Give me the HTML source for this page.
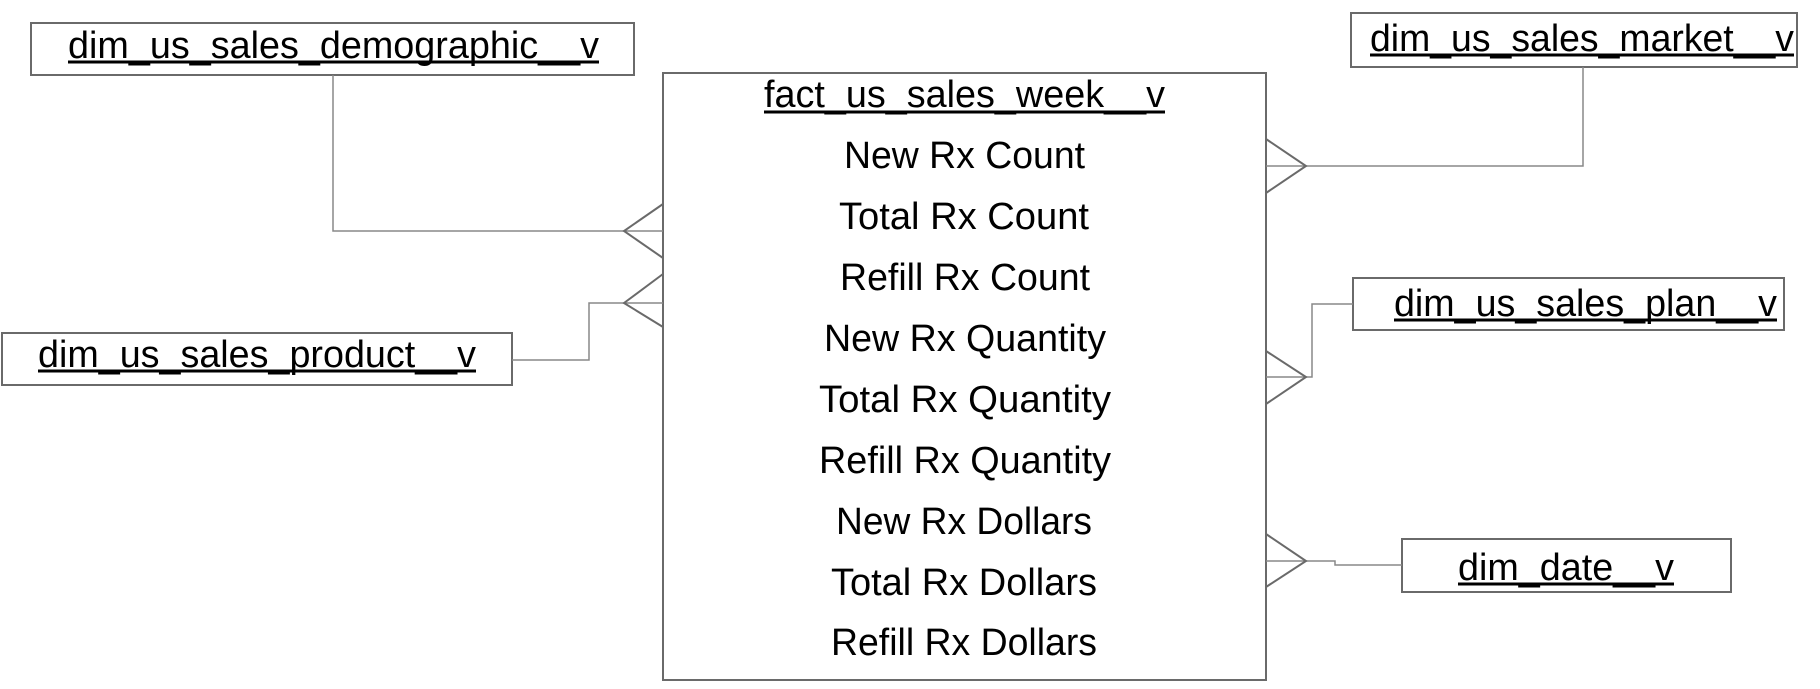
<!DOCTYPE html>
<html><head><meta charset="utf-8"><style>
html,body{margin:0;padding:0;background:#fff;}
svg{display:block;}
text{font-family:"Liberation Sans",Arial,sans-serif;fill:#000;}
</style></head><body>
<svg width="1820" height="689" viewBox="0 0 1820 689" xmlns="http://www.w3.org/2000/svg">
<g fill="#fff" stroke="#6a6a6a" stroke-width="2">
<rect x="31" y="23" width="603" height="52"/>
<rect x="663" y="73" width="603" height="607"/>
<rect x="2" y="333" width="510" height="52"/>
<rect x="1351" y="13" width="446" height="54"/>
<rect x="1353" y="278" width="431" height="52"/>
<rect x="1402" y="539" width="329" height="53"/>
</g>
<g fill="none" stroke="#888" stroke-width="1.5">
<polyline points="333,75 333,231 663,231"/>
<polyline points="512,360 589,360 589,303 663,303"/>
<polyline points="1266,166 1583,166 1583,67"/>
<polyline points="1266,377 1312,377 1312,304 1353,304"/>
<polyline points="1266,561 1335,561 1335,565 1402,565"/>
</g>
<g fill="none" stroke="#6a6a6a" stroke-width="2">
<polyline points="663,204 624,231 663,258"/>
<polyline points="663,274 624,303 663,327"/>
<polyline points="1266,139 1306,166 1266,193"/>
<polyline points="1266,351 1306,377 1266,404"/>
<polyline points="1266,534 1306,561 1266,587"/>
</g>
<g font-size="38">
<text x="68" y="58" textLength="531" lengthAdjust="spacingAndGlyphs">dim_us_sales_demographic__v</text>
<text x="38" y="367" textLength="438" lengthAdjust="spacingAndGlyphs">dim_us_sales_product__v</text>
<text x="1370" y="51" textLength="424" lengthAdjust="spacingAndGlyphs">dim_us_sales_market__v</text>
<text x="1394" y="316" textLength="383" lengthAdjust="spacingAndGlyphs">dim_us_sales_plan__v</text>
<text x="1458" y="580" textLength="216" lengthAdjust="spacingAndGlyphs">dim_date__v</text>
<text x="764" y="107" textLength="401" lengthAdjust="spacingAndGlyphs">fact_us_sales_week__v</text>
</g>
<g stroke="#000" stroke-width="3">
<line x1="68" y1="62" x2="599" y2="62"/>
<line x1="38" y1="371" x2="476" y2="371"/>
<line x1="1370" y1="55" x2="1794" y2="55"/>
<line x1="1394" y1="320" x2="1777" y2="320"/>
<line x1="1458" y1="584" x2="1674" y2="584"/>
<line x1="764" y1="112" x2="1165" y2="112"/>
</g>
<g font-size="38">
<text x="844" y="168" textLength="241" lengthAdjust="spacingAndGlyphs">New Rx Count</text>
<text x="839" y="229" textLength="250" lengthAdjust="spacingAndGlyphs">Total Rx Count</text>
<text x="840" y="290" textLength="250" lengthAdjust="spacingAndGlyphs">Refill Rx Count</text>
<text x="824" y="351" textLength="282" lengthAdjust="spacingAndGlyphs">New Rx Quantity</text>
<text x="819" y="412" textLength="292" lengthAdjust="spacingAndGlyphs">Total Rx Quantity</text>
<text x="819" y="473" textLength="292" lengthAdjust="spacingAndGlyphs">Refill Rx Quantity</text>
<text x="836" y="534" textLength="256" lengthAdjust="spacingAndGlyphs">New Rx Dollars</text>
<text x="831" y="595" textLength="266" lengthAdjust="spacingAndGlyphs">Total Rx Dollars</text>
<text x="831" y="655" textLength="266" lengthAdjust="spacingAndGlyphs">Refill Rx Dollars</text>
</g>
</svg>
</body></html>
